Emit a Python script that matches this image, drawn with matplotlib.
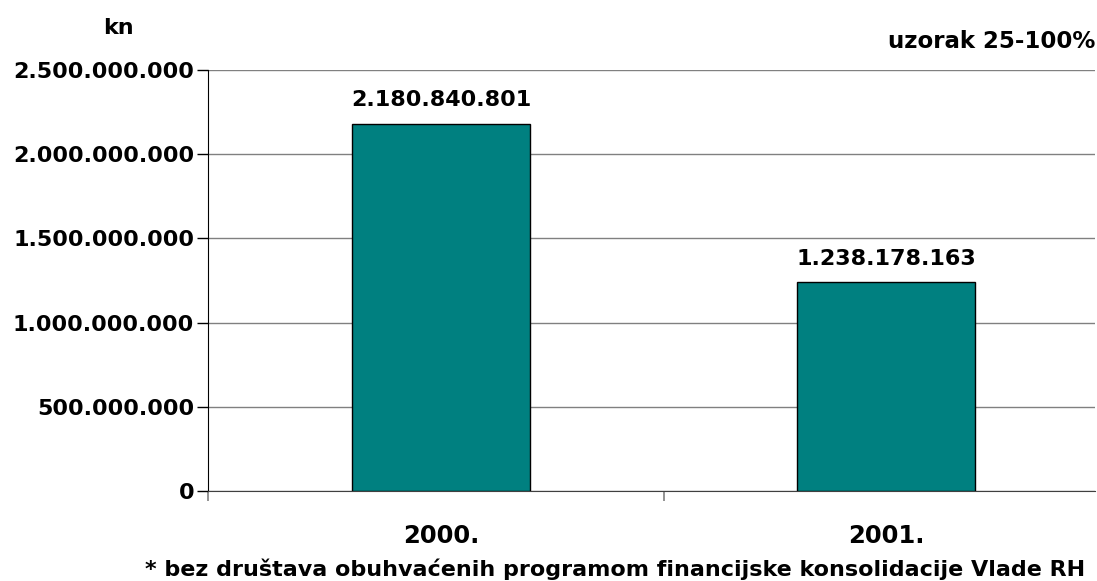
import matplotlib
matplotlib.use("Agg")
import matplotlib.pyplot as plt
from matplotlib.ticker import FixedLocator, FuncFormatter

years = ["2000.", "2001."]
values = [2180840801, 1238178163]
y_ticks = [0, 500000000, 1000000000, 1500000000, 2000000000, 2500000000]

unit_label = "kn"
sample_label = "uzorak 25-100%"
footnote = "* bez društava obuhvaćenih programom financijske konsolidacije Vlade RH"

BAR_COLOR = "#008080"
GRID_COLOR = "#808080"


def dotted(v, pos=None):
    return f"{int(v):,}".replace(",", ".")


plt.rcParams["font.family"] = "DejaVu Sans"
plt.rcParams["font.weight"] = "bold"

fig = plt.figure(figsize=(10.97, 5.81), dpi=100)
ax = fig.add_axes([208 / 1097, 90 / 581, 887 / 1097, 421 / 581])

x = list(range(len(years)))
ax.bar(x, values, width=0.4, color=BAR_COLOR, edgecolor="black", linewidth=1.0, zorder=3)

for xi, v in zip(x, values):
    ax.annotate(dotted(v), (xi, v), xytext=(0, 10), textcoords="offset points",
                ha="center", va="bottom", fontsize=16, fontweight="bold")

# category slots are wider than the visible area: the right one is clipped by the figure edge
ax.set_xlim(-0.524, 1.47)
ax.set_ylim(y_ticks[0], y_ticks[-1])
ax.set_yticks(y_ticks)
ax.yaxis.set_major_formatter(FuncFormatter(dotted))
ax.yaxis.grid(True, color=GRID_COLOR, linewidth=1.0, zorder=0)

ax.set_xticks(x)
ax.set_xticklabels(years, fontsize=17.5, fontweight="bold")
ax.tick_params(axis="x", which="major", length=0, pad=24)
ax.xaxis.set_minor_locator(FixedLocator([-0.524, 0.5]))
ax.tick_params(axis="x", which="minor", direction="out", length=7, color=GRID_COLOR, width=1.2)
ax.tick_params(axis="y", direction="out", length=8, width=1.0, pad=2, labelsize=16)
for lbl in ax.get_yticklabels():
    lbl.set_fontweight("bold")

for side in ("top", "right"):
    ax.spines[side].set_visible(False)
ax.spines["left"].set_color("black")
ax.spines["bottom"].set_color("#404040")

fig.text(118 / 1097, 1 - 28 / 581, unit_label, ha="center", va="center", fontsize=16, fontweight="bold")
fig.text(1095 / 1097, 1 - 42 / 581, sample_label, ha="right", va="center", fontsize=16.5, fontweight="bold")
fig.text(615 / 1097, 1 - 569 / 581, footnote, ha="center", va="center", fontsize=16, fontweight="bold")

fig.savefig("out.png", dpi=100)
